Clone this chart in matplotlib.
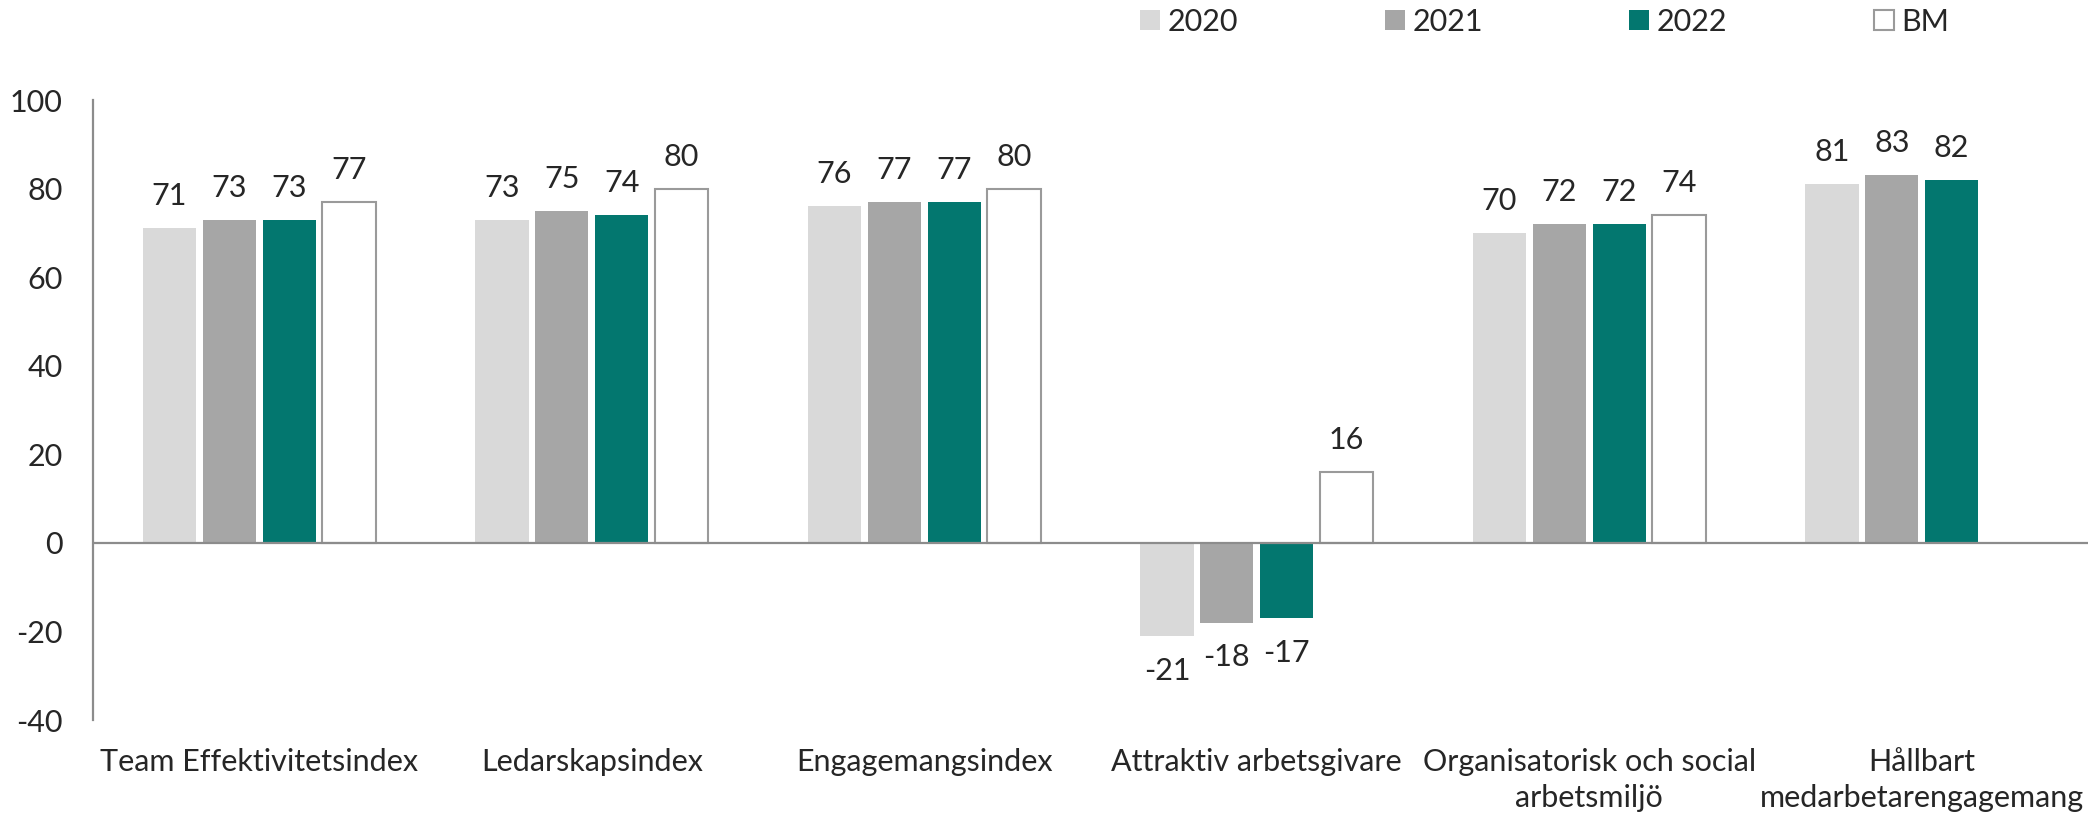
import matplotlib

matplotlib.use("Agg")
import matplotlib.pyplot as plt  # noqa: E402
import numpy as np  # noqa: E402
from matplotlib.patches import Patch  # noqa: E402

# Calibri に近い Lato を使う
plt.rcParams["font.family"] = ["Lato", "DejaVu Sans"]

# データ
categories = [
    "Team Effektivitetsindex",
    "Ledarskapsindex",
    "Engagemangsindex",
    "Attraktiv arbetsgivare",
    "Organisatorisk och social\narbetsmiljö",
    "Hållbart\nmedarbetarengagemang",
]
series_names = ["2020", "2021", "2022", "BM"]
values_2020 = [71, 73, 76, -21, 70, 81]
values_2021 = [73, 75, 77, -18, 72, 83]
values_2022 = [73, 74, 77, -17, 72, 82]
values_bm = [77, 80, 80, 16, 74, None]
y_ticks = [-40, -20, 0, 20, 40, 60, 80, 100]

FONT_SIZE = 22
AXIS_COLOR = "#8c8c8c"
TEXT_COLOR = "#262626"

styles = [
    {"color": "#d9d9d9", "edgecolor": "none"},
    {"color": "#a6a6a6", "edgecolor": "none"},
    {"color": "#03776f", "edgecolor": "none"},
    {"color": "white", "edgecolor": "#9a9a9a", "linewidth": 1.5},
]

fig = plt.figure(figsize=(20.95, 8.16), dpi=100)
ax = fig.add_axes([93 / 2095, 96 / 816, (2088 - 93) / 2095, 620 / 816])

x = np.arange(len(categories))
step = 0.18
width = 0.16
all_series = [values_2020, values_2021, values_2022, values_bm]

for i, (vals, style) in enumerate(zip(all_series, styles)):
    offset = (i - 1.5) * step
    xs = [xi + offset for xi, v in zip(x, vals) if v is not None]
    vs = [v for v in vals if v is not None]
    ax.bar(xs, vs, width=width, zorder=2, **style)
    for xi, v in zip(xs, vs):
        ax.annotate(
            str(v),
            (xi, v),
            xytext=(0, 23 if v >= 0 else -25),
            textcoords="offset points",
            ha="center",
            va="center",
            fontsize=FONT_SIZE,
            color=TEXT_COLOR,
        )

ax.set_xlim(-0.5, len(categories) - 0.5)
ax.set_ylim(-40, 100)
ax.set_yticks(y_ticks)
ax.set_yticklabels([str(t) for t in y_ticks])
ax.set_xticks(x)
ax.set_xticklabels(categories, linespacing=1.35)
ax.tick_params(axis="y", length=0, pad=22, labelsize=FONT_SIZE, labelcolor=TEXT_COLOR)
ax.tick_params(axis="x", length=0, pad=20, labelsize=FONT_SIZE, labelcolor=TEXT_COLOR)
for lbl in ax.get_xticklabels():
    lbl.set_verticalalignment("top")

for side in ["top", "right", "bottom"]:
    ax.spines[side].set_visible(False)
ax.spines["left"].set_color(AXIS_COLOR)
ax.spines["left"].set_linewidth(1.6)
ax.axhline(0, color=AXIS_COLOR, linewidth=1.6, zorder=3)

handles = [Patch(facecolor=s["color"], edgecolor=s["edgecolor"], linewidth=s.get("linewidth", 0)) for s in styles]
fig.legend(
    handles,
    series_names,
    loc="center left",
    bbox_to_anchor=(1140 / 2095, 1 - 22 / 816),
    ncol=4,
    frameon=False,
    fontsize=FONT_SIZE,
    handlelength=0.65,
    handleheight=0.65,
    handletextpad=0.25,
    columnspacing=4.8,
    borderpad=0,
    borderaxespad=0,
    labelcolor=TEXT_COLOR,
)

plt.savefig("out.png", dpi=100)
plt.close(fig)
